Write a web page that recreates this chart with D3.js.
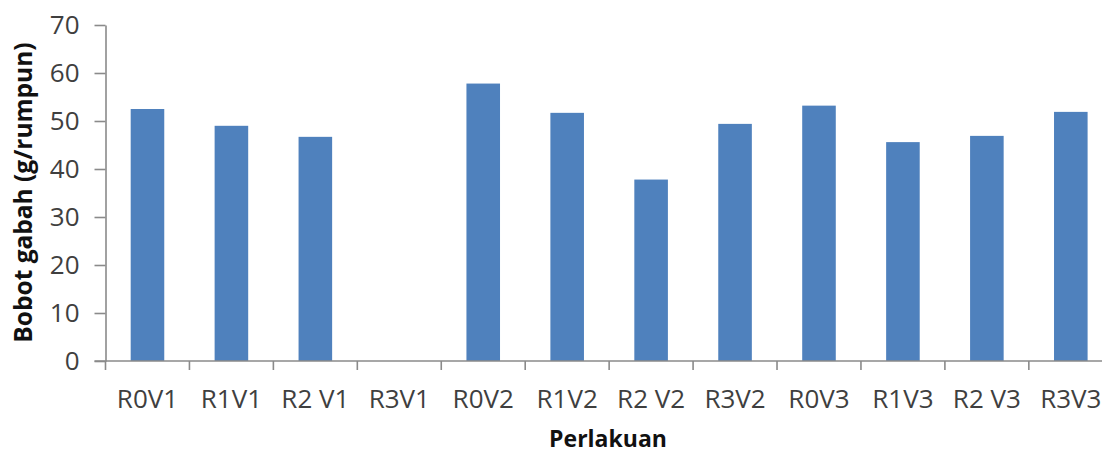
<!DOCTYPE html>
<html>
<head>
<meta charset="utf-8">
<script src="https://cdn.jsdelivr.net/npm/d3@7"></script>
<style>
  html, body { margin: 0; padding: 0; background: #fff; }
  svg { display: block; }
</style>
</head>
<body>
<svg id="chart" width="1102" height="453"></svg>
<script>
const categories = ["R0V1", "R1V1", "R2 V1", "R3V1", "R0V2", "R1V2", "R2 V2", "R3V2", "R0V3", "R1V3", "R2 V3", "R3V3"];
const values = [52.5, 49.0, 46.7, 0, 57.8, 51.7, 37.8, 49.4, 53.2, 45.6, 46.9, 51.9];
const yTicks = [0, 10, 20, 30, 40, 50, 60, 70];
const yTitle = "Bobot gabah (g/rumpun)";
const xTitle = "Perlakuan";

const svg = d3.select("#chart");
const axisColor = "#8a8a8a";
const textColor = "#3f3f3f";
const font = "'Open Sans', 'Liberation Sans', sans-serif";

const x0 = 105.5, step = 83.94;
const x = d3.scaleBand().domain(categories).range([x0, x0 + step * categories.length]).padding(0);
const y = d3.scaleLinear().domain([0, 70]).range([361, 25]);

// Y axis
const gy = svg.append("g").attr("transform", `translate(${x0},0)`)
  .call(d3.axisLeft(y).tickValues(yTicks).tickSize(11).tickSizeOuter(0).tickPadding(15));
gy.select(".domain").attr("stroke", axisColor).attr("stroke-width", 1.6);
gy.selectAll(".tick line").attr("stroke", axisColor).attr("stroke-width", 1.6);
gy.selectAll(".tick text").attr("fill", textColor).style("font-family", font).style("font-size", "26px");

// Bars
const bw = x.bandwidth() * 0.4;
svg.append("g").selectAll("rect").data(values).join("rect")
  .attr("x", (d, i) => x(categories[i]) + (x.bandwidth() - bw) / 2)
  .attr("width", bw)
  .attr("y", d => y(d))
  .attr("height", d => y(0) - y(d))
  .attr("fill", "#4f81bd");

// X axis
const gx = svg.append("g").attr("transform", `translate(0,${y(0)})`)
  .call(d3.axisBottom(x).tickSize(0).tickPadding(28.5));
gx.select(".domain").remove();
gx.selectAll(".tick text").attr("fill", textColor).style("font-family", font).style("font-size", "26px");
svg.append("line").attr("x1", x0 - 11).attr("x2", 1102).attr("y1", y(0)).attr("y2", y(0))
  .attr("stroke", axisColor).attr("stroke-width", 1.6);
const bounds = categories.map(c => x(c)).concat([x0 + step * categories.length]);
svg.append("g").selectAll("line").data(bounds).join("line")
  .attr("x1", d => d).attr("x2", d => d)
  .attr("y1", y(0)).attr("y2", y(0) + 9)
  .attr("stroke", axisColor).attr("stroke-width", 1.6);

// Titles
svg.append("text").attr("transform", "translate(32,192.5) rotate(-90)")
  .attr("text-anchor", "middle").attr("fill", "#111")
  .style("font-family", font).style("font-weight", "bold").style("font-size", "24.5px")
  .text(yTitle);
svg.append("text").attr("x", 608).attr("y", 447)
  .attr("text-anchor", "middle").attr("fill", "#111")
  .style("font-family", font).style("font-weight", "bold").style("font-size", "23px")
  .text(xTitle);
</script>
</body>
</html>
